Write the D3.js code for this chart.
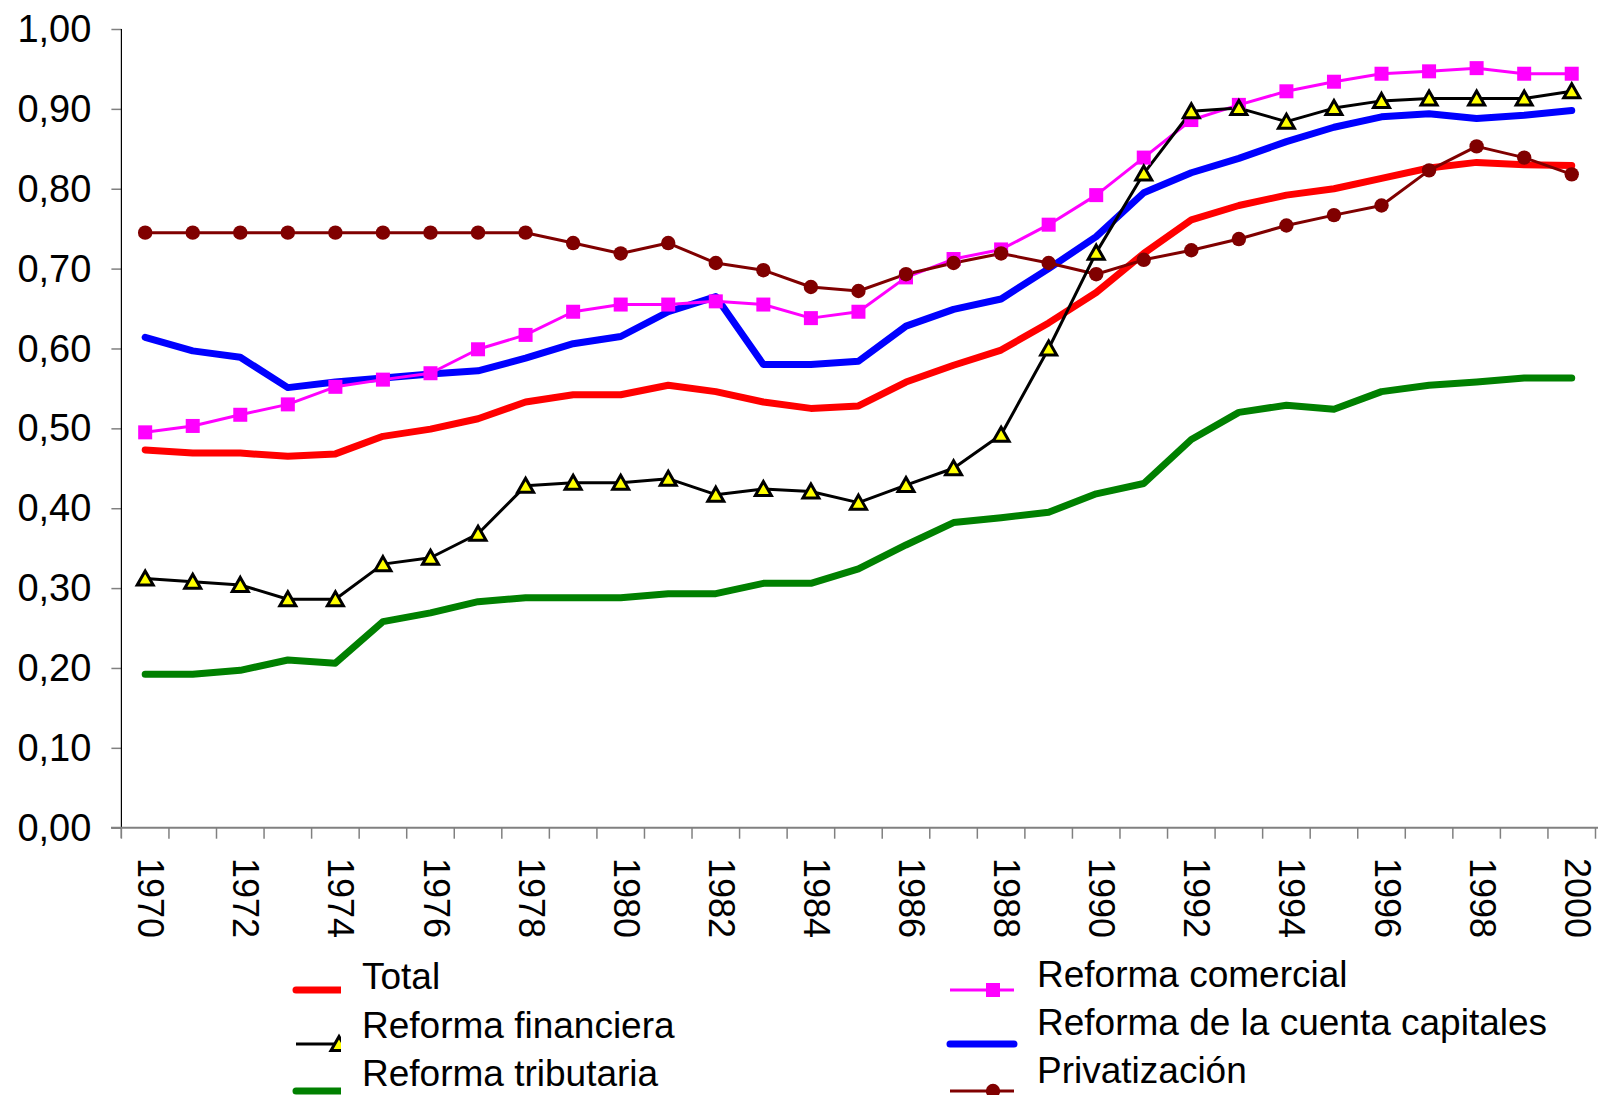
<!DOCTYPE html>
<html>
<head>
<meta charset="utf-8">
<script src="https://cdn.jsdelivr.net/npm/d3@7"></script>
<style>
  body { margin: 0; background: #fff; }
  text { font-family: "Liberation Sans", Arial, sans-serif; fill: #000; }
</style>
</head>
<body>
<script>
// values, 1970-2000
var years = d3.range(1970, 2001);
var yTicks = [0, 0.1, 0.2, 0.3, 0.4, 0.5, 0.6, 0.7, 0.8, 0.9, 1.0];

var total = [0.473, 0.469, 0.469, 0.465, 0.468, 0.490, 0.499, 0.512, 0.533, 0.542, 0.542,
  0.554, 0.546, 0.533, 0.525, 0.528, 0.558, 0.579, 0.598, 0.632, 0.670,
  0.719, 0.761, 0.779, 0.792, 0.800, 0.813, 0.826, 0.833, 0.830, 0.829];
var financiera = [0.312, 0.308, 0.304, 0.286, 0.286, 0.330, 0.338, 0.368, 0.428, 0.432, 0.432,
  0.437, 0.417, 0.424, 0.421, 0.407, 0.429, 0.450, 0.492, 0.600, 0.720,
  0.819, 0.897, 0.901, 0.884, 0.901, 0.910, 0.913, 0.913, 0.913, 0.922];
var tributaria = [0.192, 0.192, 0.197, 0.210, 0.206, 0.258, 0.269, 0.283, 0.288, 0.288, 0.288,
  0.293, 0.293, 0.306, 0.306, 0.324, 0.354, 0.382, 0.388, 0.395, 0.418,
  0.431, 0.486, 0.520, 0.529, 0.524, 0.546, 0.554, 0.558, 0.563, 0.563];
var comercial = [0.495, 0.503, 0.517, 0.530, 0.552, 0.561, 0.569, 0.599, 0.617, 0.646, 0.655,
  0.655, 0.659, 0.655, 0.638, 0.646, 0.689, 0.712, 0.724, 0.755, 0.792,
  0.839, 0.886, 0.905, 0.922, 0.934, 0.944, 0.947, 0.951, 0.944, 0.944];
var capitales = [0.614, 0.597, 0.589, 0.551, 0.558, 0.563, 0.568, 0.572, 0.588, 0.606, 0.615,
  0.646, 0.665, 0.580, 0.580, 0.584, 0.628, 0.649, 0.662, 0.700, 0.740,
  0.795, 0.820, 0.838, 0.859, 0.877, 0.890, 0.894, 0.888, 0.892, 0.898];
var privatizacion = [0.745, 0.745, 0.745, 0.745, 0.745, 0.745, 0.745, 0.745, 0.745, 0.732, 0.719,
  0.732, 0.707, 0.698, 0.677, 0.672, 0.693, 0.707, 0.719, 0.707, 0.693,
  0.711, 0.723, 0.737, 0.754, 0.767, 0.779, 0.823, 0.853, 0.839, 0.818];

var series = [
  {name: "Total", values: total, color: "#ff0000", width: 7, marker: null},
  {name: "Reforma tributaria", values: tributaria, color: "#008000", width: 7, marker: null},
  {name: "Reforma de la cuenta capitales", values: capitales, color: "#0000ff", width: 7, marker: null},
  {name: "Reforma comercial", values: comercial, color: "#ff00ff", width: 3, marker: "square"},
  {name: "Privatización", values: privatizacion, color: "#800000", width: 3, marker: "circle"},
  {name: "Reforma financiera", values: financiera, color: "#000000", width: 3, marker: "triangle"}
];

var svg = d3.select("body")
  .append("svg")
    .attr("width", 1598)
    .attr("height", 1095);

svg.append("rect").attr("width", 1598).attr("height", 1095).attr("fill", "#fff");

var x = d3.scaleBand()
  .domain(years)
  .range([121.4, 1595.5])
  .padding(0);
var y = d3.scaleLinear()
  .domain([0, 1])
  .range([827.7, 29]);

function cx(i) { return x(years[i]) + x.bandwidth() / 2; }

// y axis
var yAxis = svg.append("g")
    .attr("transform", "translate(121.4,0)")
    .call(d3.axisLeft(y).tickValues(yTicks).tickSize(10).tickPadding(20)
      .tickFormat(function(d) { return d3.format(".2f")(d).replace(".", ","); }));
yAxis.select(".domain").remove();
yAxis.selectAll(".tick line").attr("stroke", "#808080").attr("stroke-width", 1.5);
yAxis.selectAll(".tick text")
    .style("font-size", "38px")
    .attr("dy", "0.33em");

svg.append("line")
    .attr("x1", 121.4).attr("x2", 121.4)
    .attr("y1", 29).attr("y2", 838)
    .attr("stroke", "#000").attr("stroke-width", 1.2);

// x axis: ticks between categories, labels every other year
var bounds = years.map(function(d) { return x(d); }).concat([x.range()[1]]);
svg.append("line")
    .attr("x1", 111).attr("x2", 1598)
    .attr("y1", y(0)).attr("y2", y(0))
    .attr("stroke", "#808080").attr("stroke-width", 2);
svg.append("g").selectAll("line")
    .data(bounds)
  .enter().append("line")
    .attr("x1", function(d) { return d; })
    .attr("x2", function(d) { return d; })
    .attr("y1", y(0)).attr("y2", y(0) + 11)
    .attr("stroke", "#808080").attr("stroke-width", 1.5);

svg.append("g").selectAll("text")
    .data(years.filter(function(d) { return d % 2 === 0; }))
  .enter().append("text")
    .attr("transform", function(d) {
      return "translate(" + (x(d) + x.bandwidth() / 2 + 6) + ",858) rotate(90)";
    })
    .attr("dy", "0.36em")
    .style("font-size", "36px")
    .text(function(d) { return d; });

// lines
var line = d3.line()
  .x(function(d, i) { return cx(i); })
  .y(function(d) { return y(d); });

series.forEach(function(s) {
  svg.append("path")
      .datum(s.values)
      .attr("fill", "none")
      .attr("stroke", s.color)
      .attr("stroke-width", s.width)
      .attr("stroke-linejoin", "round")
      .attr("stroke-linecap", "round")
      .attr("d", line);
});

function drawMarker(g, type, px, py) {
  if (type === "square") {
    g.append("rect")
        .attr("x", px - 7).attr("y", py - 7)
        .attr("width", 14).attr("height", 14)
        .attr("fill", "#ff00ff");
  } else if (type === "circle") {
    g.append("circle")
        .attr("cx", px).attr("cy", py).attr("r", 7.2)
        .attr("fill", "#800000");
  } else if (type === "triangle") {
    g.append("path")
        .attr("d", "M" + px + "," + (py - 7.5) + "L" + (px + 8) + "," + (py + 6.5) +
          "L" + (px - 8) + "," + (py + 6.5) + "Z")
        .attr("fill", "#ffff00")
        .attr("stroke", "#000")
        .attr("stroke-width", 3)
        .attr("stroke-linejoin", "miter");
  }
}

series.forEach(function(s) {
  if (!s.marker) return;
  var g = svg.append("g");
  s.values.forEach(function(v, i) { drawMarker(g, s.marker, cx(i), y(v)); });
});

// legend
var legendRows = [
  {name: "Total", col: 0, textY: 989, keyY: 990, s: series[0]},
  {name: "Reforma financiera", col: 0, textY: 1038, keyY: 1044, s: series[5]},
  {name: "Reforma tributaria", col: 0, textY: 1086, keyY: 1091, s: series[1]},
  {name: "Reforma comercial", col: 1, textY: 987, keyY: 990, s: series[3]},
  {name: "Reforma de la cuenta capitales", col: 1, textY: 1035, keyY: 1044, s: series[2]},
  {name: "Privatización", col: 1, textY: 1083, keyY: 1091, s: series[4]}
];
var keyStart = [296, 950];
var textStart = [362, 1037];

svg.append("clipPath").attr("id", "clipLeft")
  .append("rect").attr("x", 0).attr("y", 940).attr("width", 341).attr("height", 160);

legendRows.forEach(function(r) {
  var g = svg.append("g");
  if (r.col === 0) g.attr("clip-path", "url(#clipLeft)");
  var x0 = keyStart[r.col];
  g.append("line")
      .attr("x1", x0).attr("x2", x0 + 64)
      .attr("y1", r.keyY).attr("y2", r.keyY)
      .attr("stroke", r.s.color)
      .attr("stroke-width", r.s.width)
      .attr("stroke-linecap", r.s.width > 3 ? "round" : "butt");
  if (r.s.marker) drawMarker(g, r.s.marker, x0 + 43, r.keyY);
  svg.append("text")
      .attr("x", textStart[r.col])
      .attr("y", r.textY)
      .style("font-size", "37px")
      .text(r.name);
});
</script>
</body>
</html>
